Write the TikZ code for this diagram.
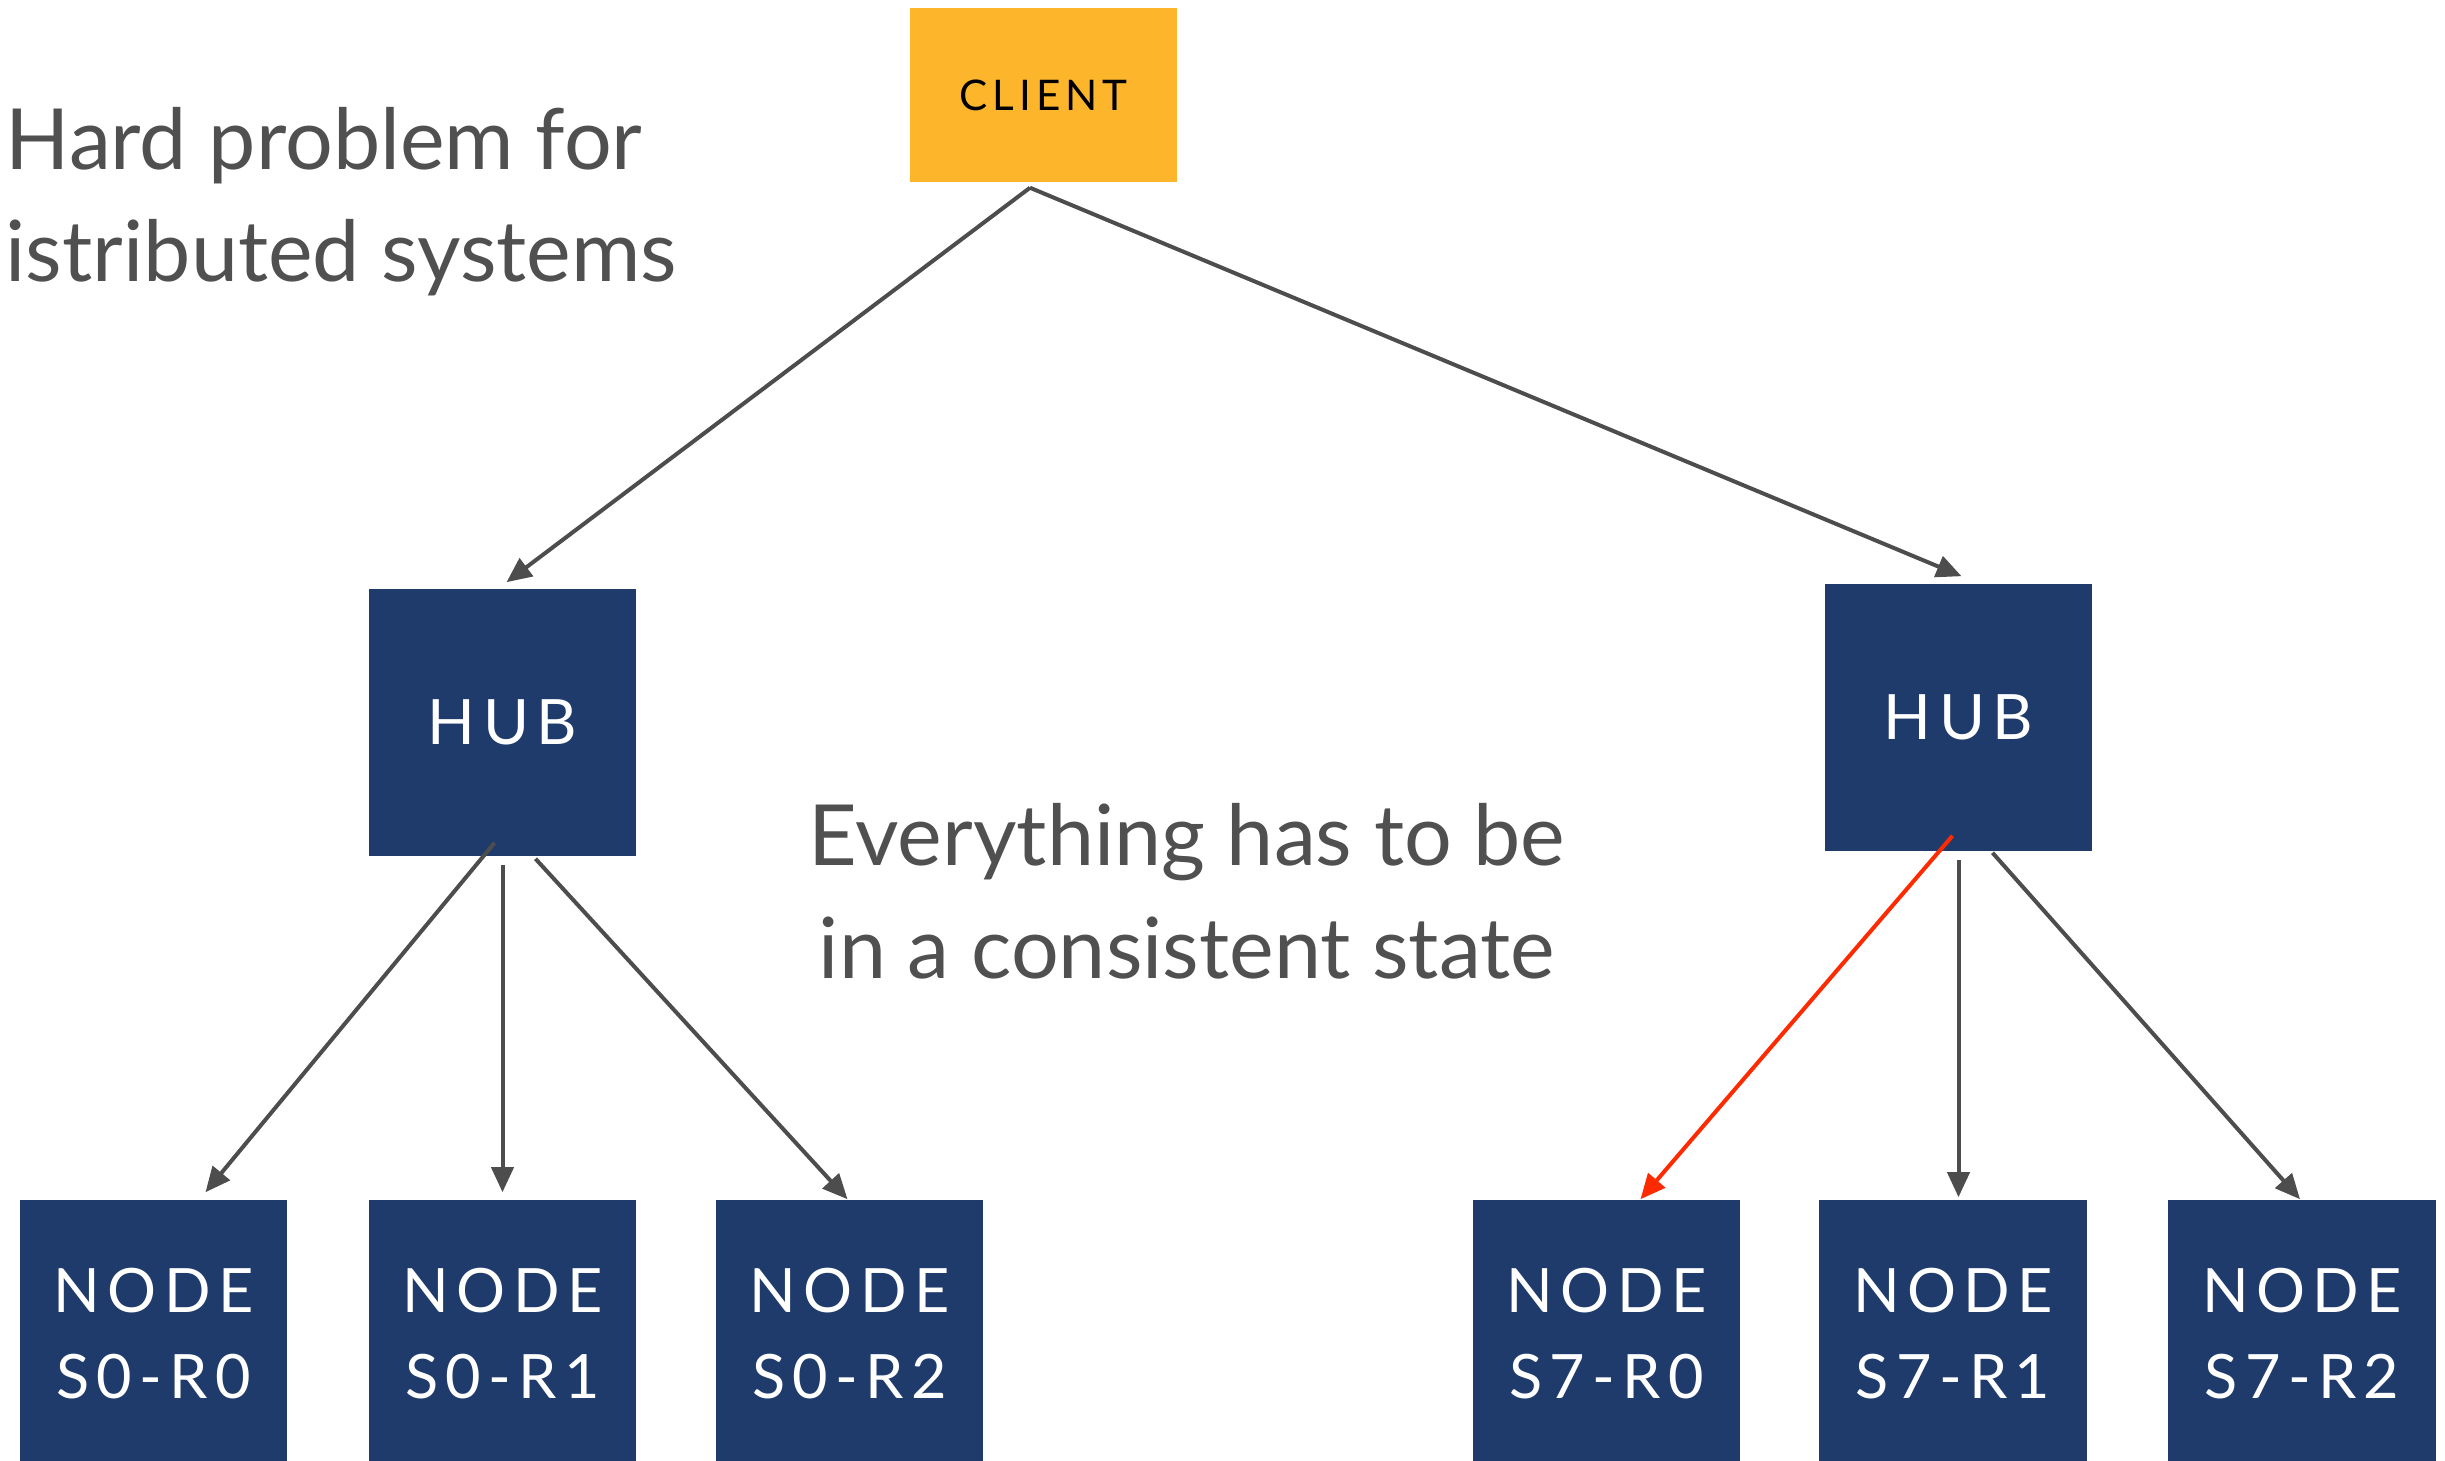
\documentclass[tikz,border=0pt]{standalone}
\usepackage{fontspec}
\setmainfont{Lato}
\newfontfamily\boxfont[LetterSpace=12]{Lato}
\usetikzlibrary{arrows.meta}
\definecolor{navy}{HTML}{1F3B6C}
\definecolor{amber}{HTML}{FDB52B}
\definecolor{wire}{HTML}{4D4D4D}
\definecolor{alarm}{HTML}{FF2A00}
\definecolor{note}{HTML}{505050}
\tikzset{
  box/.style={fill=navy, text=white, minimum width=2.67cm, minimum height=2.67cm,
    inner sep=0pt, align=center, font=\boxfont\fontsize{17.4}{24.5}\selectfont},
  link/.style={draw=wire, line width=0.04cm, -{Triangle[length=0.25cm,width=0.22cm]}},
  caption/.style={text=note, inner sep=0pt, font=\fontsize{24}{31.9}\selectfont},
}
\begin{document}
\begin{tikzpicture}[x=0.01cm,y=-0.01cm]
\useasboundingbox (0,0) rectangle (2445,1461);
\node[fill=amber, minimum width=2.67cm, minimum height=1.74cm, inner sep=0pt,
  font=\boxfont\fontsize{12}{14}\selectfont] (client) at (1043.5,95) {CLIENT};
\node[box, font=\boxfont\fontsize{17.8}{20}\selectfont] (hubL) at (502.5,722.5) {HUB};
\node[box, font=\boxfont\fontsize{17.8}{20}\selectfont] (hubR) at (1958.5,717.5) {HUB};
\foreach \r/\x in {0/153.5,1/502.5,2/849.5} {
  \node[box] (s0r\r) at (\x,1333.5) {NODE\\S0-R\r};
}
\foreach \r/\x in {0/1606.5,1/1953,2/2302} {
  \node[box] (s7r\r) at (\x,1333.5) {NODE\\S7-R\r};
}
\node[caption, anchor=base west, align=left] (hard) at (5,282)
  {Hard problem for\\istributed systems};
\node[caption, anchor=base, align=center] (state) at (1187,978)
  {Everything has to be\\in a consistent state};
% client to hubs
\draw[link] ([shift={(-13.5,5)}]client.south) -- ([shift={(4,-6)}]hubL.north);
\draw[link] ([shift={(-13.5,5)}]client.south) -- ([shift={(3,-7)}]hubR.north);
% hubs to nodes
\draw[link] ([shift={(-8,-14)}]hubL.south) -- ([shift={(52,-7)}]s0r0.north);
\draw[link] ([shift={(0,8)}]hubL.south) -- ([shift={(0,-7)}]s0r1.north);
\draw[link] ([shift={(33,2)}]hubL.south) -- ([shift={(-2,0)}]s0r2.north);
\draw[link, draw=alarm] ([shift={(-6,-16)}]hubR.south) -- ([shift={(34,0)}]s7r0.north);
\draw[link] ([shift={(0,8)}]hubR.south) -- ([shift={(5.5,-2)}]s7r1.north);
\draw[link] ([shift={(34,1)}]hubR.south) -- ([shift={(-2,0)}]s7r2.north);
\end{tikzpicture}
\end{document}
